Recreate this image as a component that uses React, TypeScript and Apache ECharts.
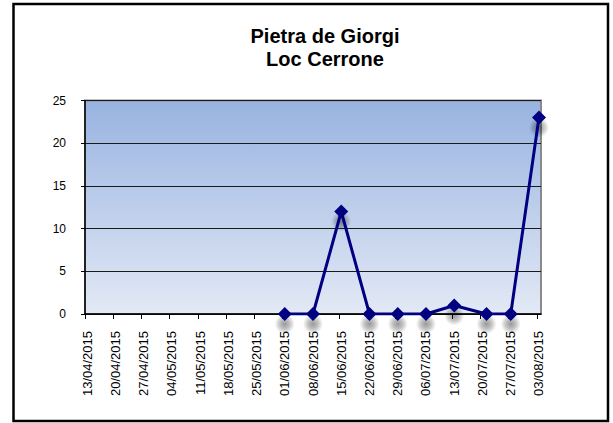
import React, { useEffect, useRef } from "react";
import * as echarts from "echarts";

const titleLines = ["Pietra de Giorgi", "Loc Cerrone"];

const tickLabels = [
  "13/04/2015", "20/04/2015", "27/04/2015", "04/05/2015", "11/05/2015",
  "18/05/2015", "25/05/2015", "01/06/2015", "08/06/2015", "15/06/2015",
  "22/06/2015", "29/06/2015", "06/07/2015", "13/07/2015", "20/07/2015",
  "27/07/2015", "03/08/2015",
];

const sampleDates = [
  "01/06/2015", "08/06/2015", "15/06/2015", "22/06/2015", "29/06/2015",
  "06/07/2015", "13/07/2015", "21/07/2015", "27/07/2015", "03/08/2015",
];
const sampleValues = [0, 0, 12, 0, 0, 0, 1, 0, 0, 23];

const yTicks = [0, 5, 10, 15, 20, 25];

const FONT = "'Liberation Sans', Arial, sans-serif";

function toUTC(s: string): number {
  const [d, m, y] = s.split("/").map(Number);
  return Date.UTC(y, m - 1, d);
}
const DAY = 86400000;
const origin = toUTC(tickLabels[0]);
const dayOf = (s: string) => Math.round((toUTC(s) - origin) / DAY);

export default function App() {
  const ref = useRef<HTMLDivElement>(null);

  useEffect(() => {
    if (!ref.current) return;
    const chart = echarts.init(ref.current, undefined, { renderer: "svg" });

    const tickDays = tickLabels.map(dayOf);
    const labelPos = tickDays.map((d) => d + 0.5);
    const lastDay = tickDays[tickDays.length - 1] + 1;
    const points = sampleDates.map((s, i) => [dayOf(s) + 0.5, sampleValues[i]]);

    chart.setOption({
      animation: false,
      backgroundColor: "#ffffff",
      title: {
        text: titleLines.join("\n"),
        left: 320,
        top: 19,
        textAlign: "center",
        textStyle: {
          fontFamily: FONT,
          fontSize: 20,
          fontWeight: "bold",
          color: "#000",
          lineHeight: 23,
        },
      },
      graphic: [
        {
          type: "rect",
          shape: { x: 13.5, y: 4, width: 594.5, height: 417 },
          style: { fill: "none", stroke: "#000", lineWidth: 2.5 },
          silent: true,
          z: 100,
        },
      ],
      grid: {
        left: 85,
        right: 72,
        top: 100.5,
        bottom: 109,
        show: true,
        borderColor: "#8a8a8a",
        borderWidth: 2,
        backgroundColor: {
          type: "linear",
          x: 0,
          y: 0,
          x2: 0,
          y2: 1,
          colorStops: [
            { offset: 0, color: "#98b3e1" },
            { offset: 1, color: "#e3e9f5" },
          ],
        },
      },
      xAxis: {
        type: "value",
        min: 0,
        max: lastDay,
        axisLine: { show: true, onZero: false, lineStyle: { color: "#000", width: 1.5 } },
        axisTick: {
          show: true,
          customValues: tickDays,
          length: 5,
          lineStyle: { color: "#000", width: 1 },
        },
        axisLabel: {
          customValues: labelPos,
          rotate: 90,
          margin: 17,
          fontFamily: FONT,
          fontSize: 13,
          color: "#000",
          formatter: (v: number) => tickLabels[Math.round((v - 0.5) / 7)] ?? "",
        },
        splitLine: { show: false },
      },
      yAxis: {
        type: "value",
        min: yTicks[0],
        max: yTicks[yTicks.length - 1],
        interval: 5,
        axisLine: { show: true, lineStyle: { color: "#000", width: 1.5 } },
        axisTick: { show: true, length: 4, lineStyle: { color: "#000" } },
        axisLabel: {
          margin: 19,
          fontFamily: FONT,
          fontSize: 12,
          color: "#000",
        },
        splitLine: { show: true, lineStyle: { color: "#1a1a1a", width: 1 } },
      },
      series: [
        {
          type: "scatter",
          data: points,
          symbol: "circle",
          symbolSize: 20,
          symbolOffset: [0, 10],
          clip: false,
          silent: true,
          itemStyle: {
            color: {
              type: "radial",
              x: 0.5,
              y: 0.5,
              r: 0.5,
              colorStops: [
                { offset: 0, color: "rgba(0,0,0,0.5)" },
                { offset: 0.5, color: "rgba(0,0,0,0.3)" },
                { offset: 1, color: "rgba(0,0,0,0)" },
              ],
            },
          },
          z: 3,
        },
        {
          type: "line",
          data: points,
          symbol: "diamond",
          symbolSize: 14,
          lineStyle: {
            color: "#000080",
            width: 3,
          },
          itemStyle: {
            color: "#000080",
          },
          z: 5,
        },
      ],
    });

    return () => chart.dispose();
  }, []);

  return (
    <div
      ref={ref}
      style={{ position: "fixed", left: 0, top: 0, width: 613, height: 423 }}
    />
  );
}
